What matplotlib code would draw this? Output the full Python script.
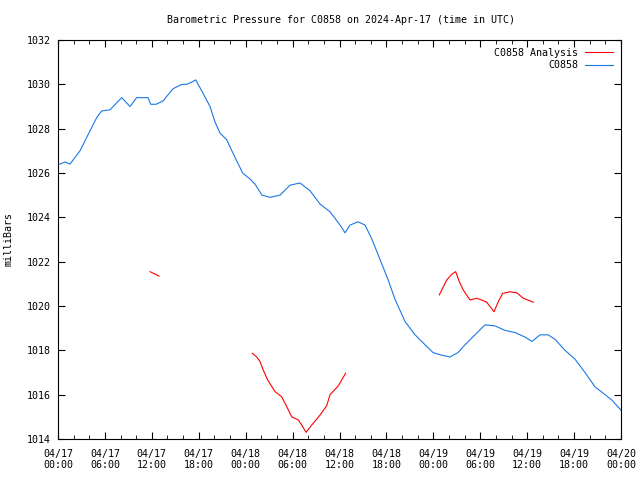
import numpy as np
import matplotlib
matplotlib.use("Agg")
import matplotlib.pyplot as plt

# ───── DATA (hours since 2024-04-17 00:00 UTC, millibars) ─────
obs_hours = [0, 0.26, 0.9, 1.53, 2.81, 4.09, 4.95, 5.59, 6.65, 8.15, 9.21, 10.06,
             11.51, 11.86, 12.53, 13.43, 14.71, 15.82, 16.46, 17.1, 17.61, 18.54,
             19.44, 20.08, 20.72, 21.57, 22.64, 23.62, 24.46, 25.19, 26.09, 27.11,
             28.39, 29.67, 30.95, 32.23, 33.51, 34.79, 36.07, 36.71, 37.35, 38.37,
             39.27, 40.16, 41.18, 42.2, 43.1, 44.38, 45.66, 46.94, 47.96, 48.86,
             50.13, 51.16, 52.05, 53.33, 54.61, 55.89, 57.17, 58.45, 59.72, 60.62,
             61.64, 62.67, 63.56, 64.84, 66.12, 67.4, 68.68, 69.96, 70.85, 72.0]
obs_press = [1026.4, 1026.4, 1026.5, 1026.4, 1027.0, 1027.9, 1028.5, 1028.8, 1028.85,
             1029.4, 1029.0, 1029.4, 1029.4, 1029.1, 1029.1, 1029.25, 1029.8, 1030.0,
             1030.0, 1030.1, 1030.2, 1029.6, 1029.0, 1028.3, 1027.8, 1027.5, 1026.7,
             1026.0, 1025.76, 1025.5, 1025.0, 1024.9, 1025.0, 1025.45, 1025.55, 1025.2,
             1024.6, 1024.25, 1023.65, 1023.3, 1023.65, 1023.8, 1023.65, 1023.0, 1022.1,
             1021.2, 1020.3, 1019.3, 1018.7, 1018.25, 1017.9, 1017.8, 1017.7, 1017.9,
             1018.25, 1018.7, 1019.15, 1019.1, 1018.9, 1018.8, 1018.6, 1018.4, 1018.7,
             1018.7, 1018.5, 1018.0, 1017.6, 1017.0, 1016.35, 1016.0, 1015.75, 1015.3]

ana1_hours = [11.77, 12.92]
ana1_press = [1021.55, 1021.35]
ana2_hours = [24.85, 25.41, 25.83, 26.26, 26.82, 27.75, 28.61, 29.25, 29.89, 30.73,
              31.17, 31.72, 32.45, 33.51, 34.36, 34.79, 35.85, 36.79]
ana2_press = [1017.87, 1017.7, 1017.5, 1017.1, 1016.66, 1016.14, 1015.9, 1015.46,
              1015.0, 1014.86, 1014.63, 1014.3, 1014.63, 1015.08, 1015.5, 1016.0,
              1016.4, 1016.97]
ana3_hours = [48.76, 49.71, 50.35, 50.86, 51.32, 51.83, 52.69, 53.55, 54.19, 54.83,
              55.76, 56.31, 56.87, 57.81, 58.66, 59.51, 60.79]
ana3_press = [1020.5, 1021.17, 1021.43, 1021.55, 1021.1, 1020.72, 1020.27, 1020.35,
              1020.27, 1020.17, 1019.74, 1020.2, 1020.57, 1020.64, 1020.6, 1020.35,
              1020.17]

tick_labels = ["04/17\n00:00", "04/17\n06:00", "04/17\n12:00", "04/17\n18:00",
               "04/18\n00:00", "04/18\n06:00", "04/18\n12:00", "04/18\n18:00",
               "04/19\n00:00", "04/19\n06:00", "04/19\n12:00", "04/19\n18:00",
               "04/20\n00:00"]
# ───────────────────────────────────────────────────────────────

plt.rcParams["font.family"] = "DejaVu Sans Mono"
plt.rcParams["font.size"] = 7.2

# analysis segments joined with NaN gaps so they share one legend entry
ana_hours = ana1_hours + [np.nan] + ana2_hours + [np.nan] + ana3_hours
ana_press = ana1_press + [np.nan] + ana2_press + [np.nan] + ana3_press

fig = plt.figure(figsize=(6.4, 4.8), dpi=100)
ax = fig.add_axes([58 / 640, 1 - 439 / 480, 563 / 640, 399 / 480])

ax.plot(ana_hours, ana_press, color="#ff0000", lw=0.8, label="C0858 Analysis")
ax.plot(obs_hours, obs_press, color="#1a78e6", lw=0.8, label="C0858")

ax.set_xlim(0, 72)
ax.set_ylim(1014, 1032)
ax.set_xticks(np.arange(0, 73, 6))
ax.set_xticklabels(tick_labels)
ax.set_xticks(np.arange(0, 73, 2), minor=True)
ax.set_yticks(np.arange(1014, 1033, 2))
ax.tick_params(which="both", direction="in", top=True, right=True, labelsize=7.2)
ax.tick_params(which="major", length=5)
ax.tick_params(which="minor", length=3)
ax.tick_params(axis="x", pad=7)
ax.tick_params(axis="y", pad=5)

ax.set_ylabel("milliBars", fontsize=7.2)
ax.yaxis.set_label_coords(-44 / 563, 0.5)
fig.text(341 / 640, 1 - 20 / 480, "Barometric Pressure for C0858 on 2024-Apr-17 (time in UTC)",
         ha="center", va="center", fontsize=7.2)

ax.legend(loc="upper right", frameon=False, markerfirst=False, handlelength=2.8,
          borderaxespad=0.5, borderpad=0.3, labelspacing=0.25, handletextpad=0.7,
          fontsize=7.2)

fig.savefig("out.png", dpi=100)
plt.close(fig)
